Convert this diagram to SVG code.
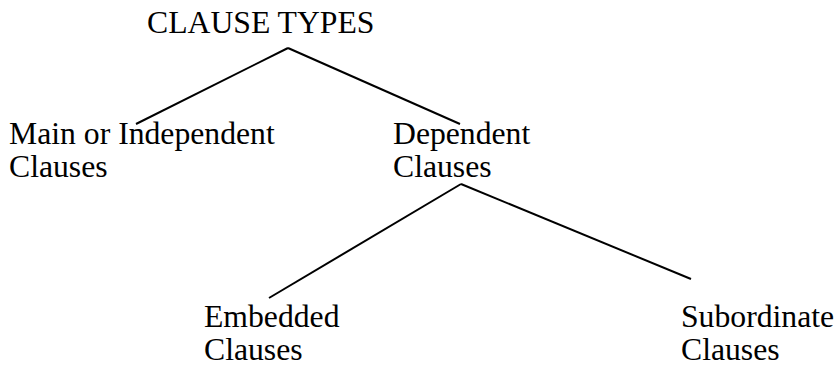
<svg xmlns="http://www.w3.org/2000/svg" width="837" height="369" viewBox="0 0 837 369">
<style>
text { font-family: "Liberation Serif", "Times New Roman", serif; font-size: 31.7px; fill: #000; }
.edge { stroke: #000; stroke-width: 2; fill: none; }
</style>
<rect width="837" height="369" fill="#fff"/>
<g id="connectors">
<line class="edge" x1="288" y1="48" x2="136" y2="124"/>
<line class="edge" x1="288" y1="48" x2="460" y2="124"/>
<line class="edge" x1="461" y1="184" x2="269" y2="298"/>
<line class="edge" x1="461" y1="184" x2="691" y2="279"/>
</g>
<g id="root"><text x="147" y="33">CLAUSE TYPES</text></g>
<g id="main"><text x="9" y="144">Main or Independent</text><text x="9" y="177">Clauses</text></g>
<g id="dependent"><text x="393" y="144">Dependent</text><text x="393" y="177">Clauses</text></g>
<g id="embedded"><text x="204" y="327">Embedded</text><text x="204" y="360">Clauses</text></g>
<g id="subordinate"><text x="681" y="327">Subordinate</text><text x="681" y="360">Clauses</text></g>
</svg>
